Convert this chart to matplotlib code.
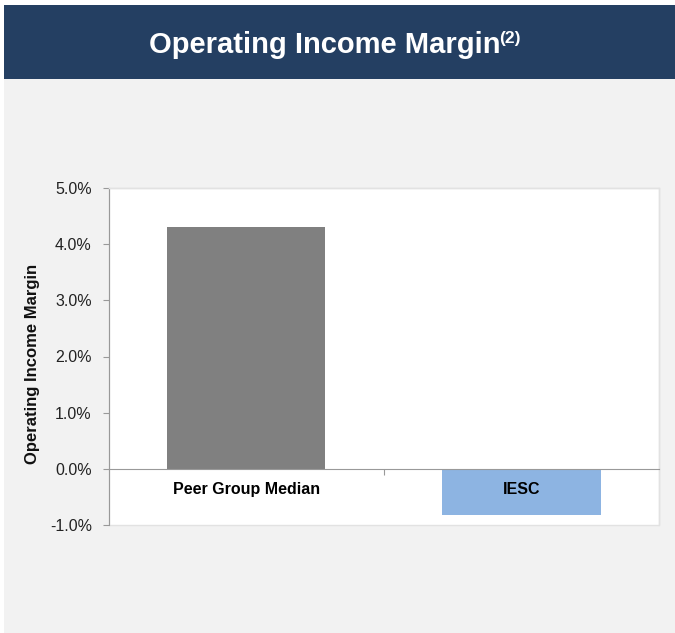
import matplotlib
matplotlib.use("Agg")
import matplotlib.pyplot as plt
from matplotlib.patches import Rectangle
from matplotlib.ticker import FuncFormatter

categories = ["Peer Group Median", "IESC"]
values = [4.3, -0.82]
bar_colors = ["#808080", "#8DB4E2"]
title_main = "Operating Income Margin"
title_sup = "(2)"
ylabel = "Operating Income Margin"
yticks = [-1, 0, 1, 2, 3, 4, 5]

plt.rcParams['font.family'] = ['Liberation Sans', 'DejaVu Sans']

W, H = 675, 633
fig = plt.figure(figsize=(W / 100, H / 100), dpi=100)
fig.patch.set_facecolor("white")

def fx(px):
    return px / W

def fy(py):
    return 1 - py / H

# background panel
fig.patches.append(Rectangle((fx(4), 0), 1 - fx(4), fy(79), transform=fig.transFigure,
                             facecolor="#F2F2F2", edgecolor="none", zorder=-5))
# header band
fig.patches.append(Rectangle((fx(4), fy(79)), 1 - fx(4), fy(5) - fy(79), transform=fig.transFigure,
                             facecolor="#243F62", edgecolor="none", zorder=-5))

ax = fig.add_axes([fx(108.5), fy(525), fx(659) - fx(108.5), fy(188) - fy(525)])
ax.set_zorder(1)
ax.set_facecolor("white")
x = list(range(len(categories)))
ax.bar(x, values, width=0.575, color=bar_colors, zorder=2)
ax.set_xlim(-0.5, len(categories) - 0.5)
ax.set_ylim(-1, 5)
ax.set_yticks(yticks)
ax.yaxis.set_major_formatter(FuncFormatter(lambda v, p: f"{v:.1f}%"))
ax.tick_params(axis="y", direction="out", length=4, color="#999999", labelsize=11.5,
               labelcolor="#222222", pad=8)
ax.set_xticks([0.5])
ax.set_xticklabels([""])
ax.tick_params(axis="x", direction="out", length=4, color="#999999")

for s in ["top", "right"]:
    ax.spines[s].set_color("#E2E2E2")
    ax.spines[s].set_linewidth(1)
ax.spines["left"].set_color("#999999")
ax.spines["bottom"].set_position(("data", 0))
ax.spines["bottom"].set_color("#999999")
ax.spines["bottom"].set_zorder(3)
ax.add_patch(Rectangle((0, 0), 1, 1, transform=ax.transAxes, fill=False,
                       edgecolor="#E2E2E2", linewidth=1, zorder=0, clip_on=False))

for xi, c in zip(x, categories):
    ax.text(xi, -0.36, c, ha="center", va="center", fontsize=11.5, fontweight="bold",
            color="black", zorder=4)

fig.text(fx(33), fy(364), ylabel, rotation=90, ha="center", va="center",
         fontsize=12, fontweight="bold", color="#111111")

# title with superscript
t = fig.text(0.5, fy(45), title_main, ha="left", va="center", fontsize=21,
             fontweight="bold", color="white")
fig.canvas.draw()
r = fig.canvas.get_renderer()
bb = t.get_window_extent(r)
s = fig.text(0, fy(39), title_sup, ha="left", va="center", fontsize=12.5,
             fontweight="bold", color="white")
bs = s.get_window_extent(r)
total = bb.width - 1 + bs.width
left = 335 - total / 2
t.set_x(fx(left))
s.set_x(fx(left + bb.width - 1))

fig.savefig("out.png", dpi=100)
